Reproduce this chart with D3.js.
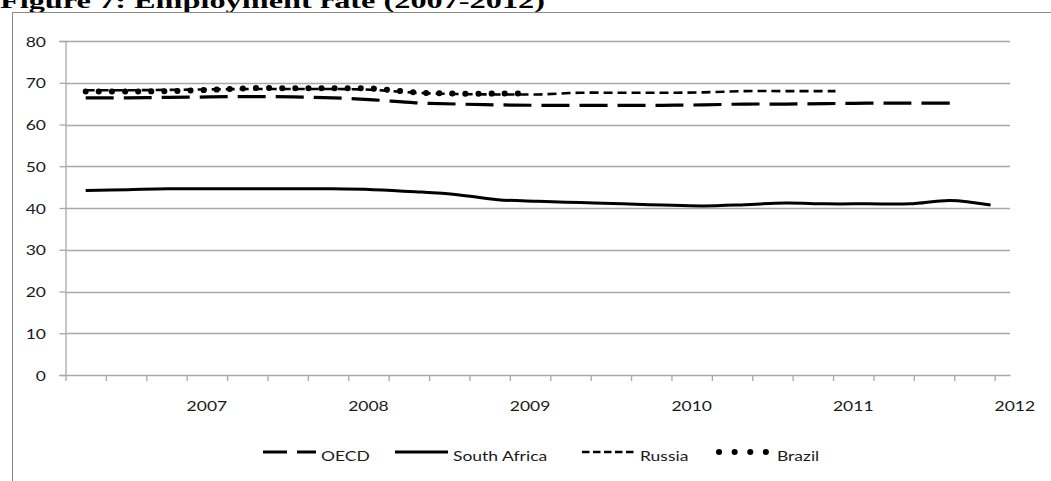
<!DOCTYPE html>
<html>
<head>
<meta charset="utf-8">
<script src="https://cdn.jsdelivr.net/npm/d3@7"></script>
<style>
  html, body { margin: 0; padding: 0; background: #fff; overflow: hidden; }
  svg { display: block; }
  .lbl { font-family: Lato, "Open Sans", sans-serif; font-size: 14px; fill: #1a1a1a; }
</style>
</head>
<body>
<svg id="chart" width="1051" height="481"></svg>
<script>
// Employment rate, % of working-age population
const yearLabels = ["2007", "2008", "2009", "2010", "2011", "2012"];
const yTickValues = [0, 10, 20, 30, 40, 50, 60, 70, 80];
const seriesNames = ["OECD", "South Africa", "Russia", "Brazil"];

// observation dates as decimal years
const saPeriods = [2006.25, 2006.51, 2006.76, 2007.02, 2007.27, 2007.53, 2007.78, 2008.03,
  2008.29, 2008.55, 2008.80, 2009.05, 2009.31, 2009.57, 2009.82, 2010.07, 2010.33, 2010.58,
  2010.83, 2011.09, 2011.35, 2011.60, 2011.85];
const saValues = [44.2, 44.4, 44.6, 44.6, 44.6, 44.6, 44.6, 44.4,
  43.9, 43.2, 42.0, 41.6, 41.3, 41.0, 40.7, 40.5, 40.8, 41.2,
  41.0, 41.0, 41.0, 41.8, 40.7];

const oecdPeriods = saPeriods.slice(0, 22);
const oecdValues = [66.4, 66.4, 66.5, 66.6, 66.7, 66.6, 66.4, 65.9,
  65.2, 64.9, 64.7, 64.6, 64.6, 64.6, 64.6, 64.7, 64.9, 64.9,
  65.0, 65.1, 65.1, 65.1];

const russiaPeriods = [2006.25, 2006.51, 2006.76, 2007.02, 2007.27, 2007.53, 2007.78, 2008.03,
  2008.29, 2008.55, 2008.80, 2009.05, 2009.31, 2009.57, 2009.82, 2010.07, 2010.33, 2010.58,
  2010.89];
const russiaValues = [68.2, 68.2, 68.3, 68.4, 68.5, 68.5, 68.5, 68.3,
  67.6, 67.3, 67.2, 67.2, 67.6, 67.6, 67.6, 67.7, 68.0, 68.0,
  68.0];

const brazilPeriods = [2006.25, 2006.51, 2006.76, 2007.02, 2007.27, 2007.53, 2007.78, 2008.03,
  2008.29, 2008.55, 2008.80, 2008.95];
const brazilValues = [67.9, 67.9, 68.0, 68.3, 68.7, 68.7, 68.7, 68.6,
  67.7, 67.4, 67.4, 67.4];

const svg = d3.select("#chart");

// title (partly above the page edge)
svg.append("text")
  .attr("x", 0).attr("y", 8)
  .attr("font-family", "'Liberation Serif', 'Times New Roman', serif")
  .attr("font-weight", "bold").attr("font-size", 22)
  .attr("textLength", 545).attr("lengthAdjust", "spacingAndGlyphs")
  .text("Figure 7: Employment  rate (2007-2012)");

// chart frame
svg.append("rect")
  .attr("x", 12.5).attr("y", 12.5).attr("width", 1200).attr("height", 600)
  .attr("fill", "none").attr("stroke", "#8a8a8a").attr("stroke-width", 1);

const x = d3.scaleLinear().domain([2006.125, 2011.97]).range([65.5, 1010]);
const y = d3.scaleLinear().domain([0, 80]).range([375, 41]);

const gridColor = "#a8a8a8";

// horizontal gridlines
svg.append("g").selectAll("line").data(yTickValues.filter(v => v > 0)).join("line")
  .attr("x1", x.range()[0]).attr("x2", x.range()[1])
  .attr("y1", d => Math.round(y(d)) + 0.5).attr("y2", d => Math.round(y(d)) + 0.5)
  .attr("stroke", gridColor).attr("stroke-width", 1.3);

// y axis
const yAxis = svg.append("g")
  .attr("transform", `translate(${x.range()[0]},0)`)
  .call(d3.axisLeft(y).tickValues(yTickValues).tickSize(6).tickFormat(""));
yAxis.selectAll("path, line").attr("stroke", gridColor).attr("stroke-width", 1.3);

// x axis: quarter boundaries
const quarterTicks = d3.range(2006.125, 2011.9, 0.25);
const xAxis = svg.append("g")
  .attr("transform", `translate(0,${y(0)})`)
  .call(d3.axisBottom(x).tickValues(quarterTicks).tickSize(6).tickSizeOuter(0).tickFormat(""));
xAxis.selectAll("path, line").attr("stroke", gridColor).attr("stroke-width", 1.3);

// horizontally stretched label helper
function label(g, px, py, str, anchor) {
  return g.append("text").attr("class", "lbl")
    .attr("transform", `translate(${px},${py}) scale(1.25,1)`)
    .attr("text-anchor", anchor)
    .attr("dominant-baseline", "central")
    .text(str);
}

const labels = svg.append("g");
yTickValues.forEach(v => label(labels, 46, y(v), String(v), "end"));
yearLabels.forEach(s => label(labels, x(+s), 405, s, "middle"));

// series
const styles = {
  "OECD":         { dash: "28 10", width: 3.2, cap: "butt" },
  "South Africa": { dash: null, width: 3, cap: "butt" },
  "Russia":       { dash: "9 5", width: 2.6, cap: "butt" },
  "Brazil":       { dash: "0.1 13", width: 6, cap: "round" }
};
const seriesData = [
  { name: "OECD", periods: oecdPeriods, values: oecdValues },
  { name: "South Africa", periods: saPeriods, values: saValues },
  { name: "Russia", periods: russiaPeriods, values: russiaValues },
  { name: "Brazil", periods: brazilPeriods, values: brazilValues }
];

const line = d3.line()
  .x(d => x(d[0])).y(d => y(d[1]))
  .curve(d3.curveCatmullRom.alpha(0.5));

svg.append("g").selectAll("path").data(seriesData).join("path")
  .attr("d", s => line(s.periods.map((p, i) => [p, s.values[i]])))
  .attr("fill", "none")
  .attr("stroke", "#000")
  .attr("stroke-width", s => styles[s.name].width)
  .attr("stroke-dasharray", s => styles[s.name].dash)
  .attr("stroke-linecap", s => styles[s.name].cap);

// legend
const legendItems = [
  { name: "OECD", x0: 263, dash: "24 10" },
  { name: "South Africa", x0: 395, dash: null },
  { name: "Russia", x0: 582, dash: "7.5 3.5" },
  { name: "Brazil", x0: 719, dash: "0.1 15.5" }
];
const legend = svg.append("g");
legendItems.forEach(it => {
  const st = styles[it.name];
  const len = it.name === "Brazil" ? 47 : 53;
  legend.append("line")
    .attr("x1", it.x0).attr("x2", it.x0 + len)
    .attr("y1", 452).attr("y2", 452)
    .attr("stroke", "#000")
    .attr("stroke-width", st.width)
    .attr("stroke-dasharray", it.dash)
    .attr("stroke-linecap", st.cap);
  label(legend, it.x0 + 58, 455, it.name, "start");
});
</script>
</body>
</html>
